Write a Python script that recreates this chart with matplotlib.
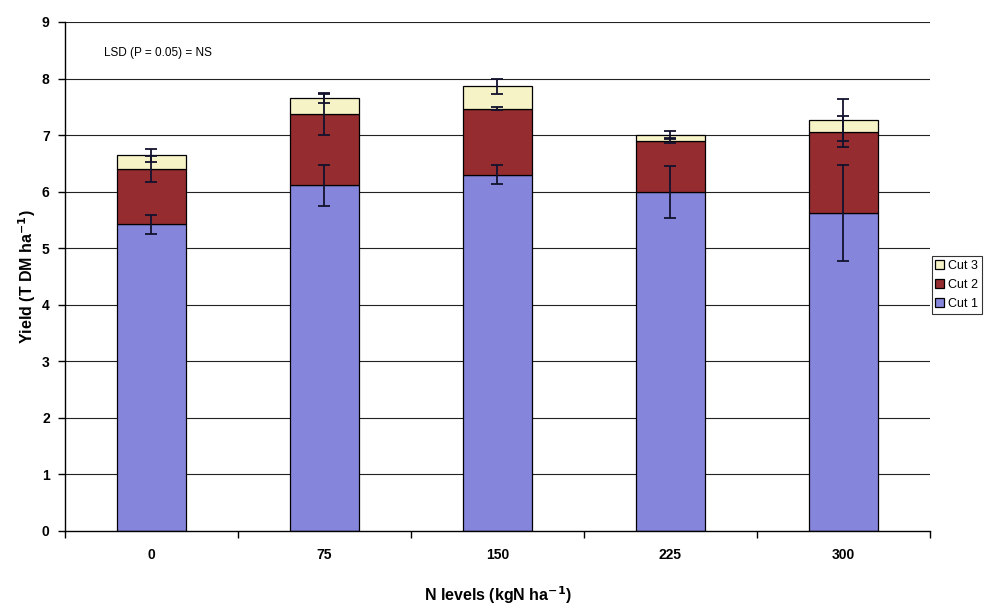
"""Stacked yield per cut across N levels, with error bars on each cut."""
import matplotlib
matplotlib.use('Agg')
from matplotlib import pyplot as plt
import numpy as np

plt.rcParams['font.family'] = ['Liberation Sans', 'DejaVu Sans']

nLevels = ['0', '75', '150', '225', '300']
cut1 = [5.42, 6.11, 6.30, 5.99, 5.63]
cut2 = [0.98, 1.27, 1.17, 0.91, 1.43]
cut3 = [0.24, 0.27, 0.39, 0.10, 0.21]
err1 = [0.17, 0.36, 0.17, 0.46, 0.85]
err2 = [0.23, 0.37, 0.03, 0.04, 0.27]
err3 = [0.12, 0.08, 0.13, 0.07, 0.37]

colors = ['#8585dc', '#952c2f', '#f6f3c6']

fig = plt.figure(figsize=(9.92, 6.04), dpi=100)
ax = fig.add_axes([0.0655, 0.1209, 0.872, 0.8427])

x = np.arange(len(nLevels))
c1 = np.array(cut1)
c2 = c1 + np.array(cut2)
c3 = c2 + np.array(cut3)

# horizontal gridlines behind the bars
for yv in range(1, 10):
    ax.axhline(yv, color='#222222', lw=0.8, zorder=0)

w = 0.4
ax.bar(x, cut1, w, color=colors[0], edgecolor='k', lw=0.9, label='Cut 1', zorder=2)
ax.bar(x, cut2, w, bottom=c1, color=colors[1], edgecolor='k', lw=0.9, label='Cut 2', zorder=2)
ax.bar(x, cut3, w, bottom=c2, color=colors[2], edgecolor='k', lw=0.9, label='Cut 3', zorder=2)

# error bars sit on the top of each stacked segment
for tops, errs in [(c1, err1), (c2, err2), (c3, err3)]:
    ax.errorbar(x, tops, yerr=errs, fmt='none', ecolor='#12122e', elinewidth=1.3,
                capsize=4, capthick=1.3, zorder=3)

ax.set_xlim(-0.5, 4.5)
ax.set_ylim(0, 9)
ax.set_yticks(range(0, 10))
ax.set_xticks(x)
ax.set_xticklabels(nLevels)
ax.set_xticks(np.arange(-0.5, 5.0, 1.0), minor=True)
ax.tick_params(axis='x', which='major', length=0, pad=12)
ax.tick_params(axis='x', which='minor', length=5, width=1, direction='out')
ax.tick_params(axis='y', length=5, width=1, direction='out', pad=6)
for lab in ax.get_xticklabels() + ax.get_yticklabels():
    lab.set_fontsize(10)
    lab.set_fontweight('bold')
for s in ['top', 'right']:
    ax.spines[s].set_visible(False)
ax.spines['left'].set_linewidth(1)
ax.spines['bottom'].set_linewidth(1)

ax.set_ylabel('Yield (T DM ha$^{\\mathbf{-1}}$)', fontsize=11.5, fontweight='bold', labelpad=3)
ax.set_xlabel('N levels (kgN ha$^{\\mathbf{-1}}$)', fontsize=11.5, fontweight='bold', labelpad=16)
ax.text(0.045, 0.94, 'LSD (P = 0.05) = NS', transform=ax.transAxes, fontsize=8.5,
        va='center', ha='left')

handles, labels = ax.get_legend_handles_labels()
leg = fig.legend(handles[::-1], labels[::-1], loc='center left', bbox_to_anchor=(0.938, 0.528),
                 fontsize=9, frameon=True, fancybox=False, edgecolor='k', handlelength=0.7,
                 handleheight=0.7, handletextpad=0.3, borderpad=0.3, labelspacing=0.55,
                 borderaxespad=0.1)
leg.get_frame().set_linewidth(0.8)

fig.savefig('out.png', dpi=100)
plt.close(fig)
